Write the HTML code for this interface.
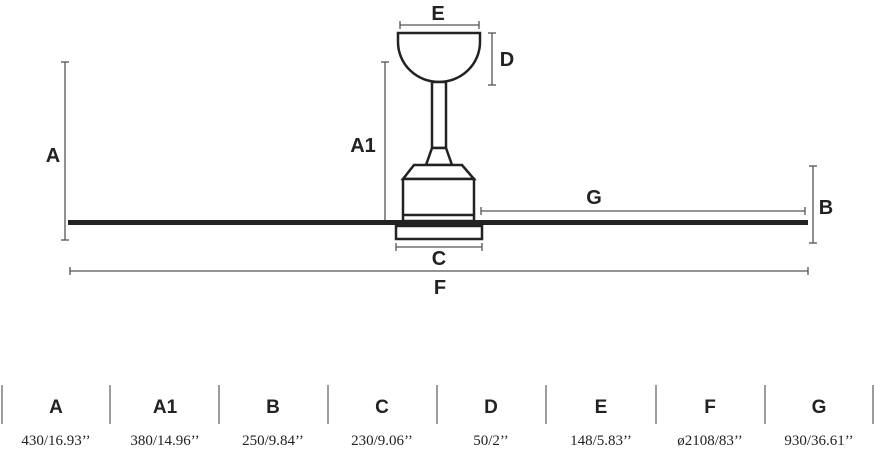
<!DOCTYPE html>
<html><head><meta charset="utf-8"><style>
html,body{margin:0;padding:0;background:#fff;}
svg{display:block;}
.l{font-family:"Liberation Sans",sans-serif;font-weight:bold;font-size:20px;fill:#222;text-anchor:middle;}
.t{font-family:"Liberation Sans",sans-serif;font-weight:bold;font-size:19px;fill:#222;text-anchor:middle;}
.v{font-family:"Liberation Serif",serif;font-size:15px;fill:#222;text-anchor:middle;}
</style></head><body>
<svg width="874" height="450" viewBox="0 0 874 450" xmlns="http://www.w3.org/2000/svg">
<g stroke="#555" stroke-width="1.3" fill="none">
<line x1="400" y1="25" x2="479" y2="25"/><line x1="400" y1="21" x2="400" y2="29"/><line x1="479" y1="21" x2="479" y2="29"/>
<line x1="492" y1="33" x2="492" y2="85"/><line x1="488" y1="33" x2="496" y2="33"/><line x1="488" y1="85" x2="496" y2="85"/>
<line x1="385" y1="62" x2="385" y2="220"/><line x1="381" y1="62" x2="389" y2="62"/>
<line x1="65" y1="62" x2="65" y2="240"/><line x1="61" y1="62" x2="69" y2="62"/><line x1="61" y1="240" x2="69" y2="240"/>
<line x1="481" y1="211" x2="805" y2="211"/><line x1="481" y1="207" x2="481" y2="215"/><line x1="805" y1="207" x2="805" y2="215"/>
<line x1="813" y1="166" x2="813" y2="243"/><line x1="809" y1="166" x2="817" y2="166"/><line x1="809" y1="243" x2="817" y2="243"/>
<line x1="396" y1="247" x2="482" y2="247"/><line x1="396" y1="243" x2="396" y2="251"/><line x1="482" y1="243" x2="482" y2="251"/>
<line x1="70" y1="271" x2="808" y2="271"/><line x1="70" y1="267" x2="70" y2="275"/><line x1="808" y1="267" x2="808" y2="275"/>
</g>
<g stroke="#222" stroke-width="2.5" fill="#fff">
<path d="M398,33 L480,33 L480,42 A41,40 0 0 1 398,42 Z"/>
<rect x="432" y="82" width="14" height="66"/>
<path d="M432,148 L446,148 L452,165 L426,165 Z"/>
<path d="M414,165 L462,165 L474,179 L403,179 Z"/>
<rect x="403" y="179" width="71" height="42"/>
<line x1="403" y1="215" x2="474" y2="215"/>
<rect x="396" y="226" width="86" height="13"/>
</g>
<rect x="68" y="220" width="740" height="5" fill="#222"/>
<text class="l" x="438" y="20">E</text>
<text class="l" x="507" y="66">D</text>
<text class="l" x="363" y="152">A1</text>
<text class="l" x="53" y="162">A</text>
<text class="l" x="594" y="204">G</text>
<text class="l" x="826" y="214">B</text>
<text class="l" x="439" y="265">C</text>
<text class="l" x="440" y="294">F</text>
<g stroke="#666" stroke-width="1.3">
<line x1="2" y1="385" x2="2" y2="424"/><line x1="110" y1="385" x2="110" y2="424"/><line x1="219" y1="385" x2="219" y2="424"/><line x1="328" y1="385" x2="328" y2="424"/><line x1="437" y1="385" x2="437" y2="424"/><line x1="546" y1="385" x2="546" y2="424"/><line x1="656" y1="385" x2="656" y2="424"/><line x1="765" y1="385" x2="765" y2="424"/><line x1="873" y1="385" x2="873" y2="424"/>
</g>
<text class="t" x="56" y="413">A</text><text class="t" x="165" y="413">A1</text><text class="t" x="273" y="413">B</text><text class="t" x="382" y="413">C</text><text class="t" x="491" y="413">D</text><text class="t" x="601" y="413">E</text><text class="t" x="710" y="413">F</text><text class="t" x="819" y="413">G</text>
<text class="v" x="56" y="445">430/16.93’’</text><text class="v" x="165" y="445">380/14.96’’</text><text class="v" x="273" y="445">250/9.84’’</text><text class="v" x="382" y="445">230/9.06’’</text><text class="v" x="491" y="445">50/2’’</text><text class="v" x="601" y="445">148/5.83’’</text><text class="v" x="710" y="445">ø2108/83’’</text><text class="v" x="819" y="445">930/36.61’’</text>
</svg>
</body></html>
